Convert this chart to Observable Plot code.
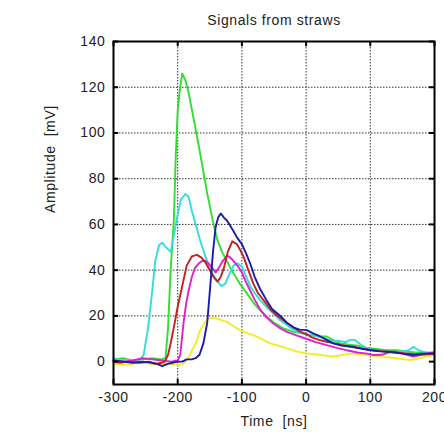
<!DOCTYPE html>
<html>
<head>
<meta charset="utf-8">
<script src="https://cdn.jsdelivr.net/npm/d3@7"></script>
<script src="https://cdn.jsdelivr.net/npm/@observablehq/plot@0.6"></script>
<style>
  html, body { margin: 0; padding: 0; background: #fff; }
</style>
</head>
<body>
<div id="chart"></div>
<script>
const title = "Signals from straws";
const xLabel = "Time\u00a0\u00a0[ns]";
const yLabel = "Amplitude\u00a0\u00a0[mV]";
const xTicks = [-300, -200, -100, 0, 100, 200];
const yTicks = [0, 20, 40, 60, 80, 100, 120, 140];

// [time ns, amplitude mV]
const yellow = [[-300,-1],[-285,-1.5],[-270,-1],[-255,-0.5],[-240,-1],[-225,-1.5],[-210,-1],[-200,-1.5],[-191,-1],[-185,1],[-180,3.6],[-172,8],[-165,13.8],[-158,17],[-152,18.8],[-144,19.3],[-135,18.5],[-123,17.4],[-113,15.5],[-103,13.8],[-92,12.5],[-82,11.6],[-70,10],[-56,8],[-43,7],[-30,5.8],[-15,4.5],[1,3.6],[20,3],[42,2.2],[58,3],[74,3.6],[90,3],[105,2.5],[120,2.2],[140,1.5],[162,0.7],[178,1.5],[198,2.9]];
const green = [[-300,1],[-285,1.5],[-270,0.5],[-255,1],[-240,1.5],[-225,1],[-219,1.5],[-215,15],[-211,40],[-206,62],[-203,90],[-200,110],[-197,118],[-193,126],[-188,123],[-184,119],[-175,106],[-165,91],[-155,75],[-145,61],[-138,53],[-131,48],[-118,41],[-103,34],[-90,29],[-80,25],[-70,22],[-61,19.5],[-50,17],[-35,14.5],[-20,13],[-9,12.5],[0,12],[10,11.5],[20,11],[32,11],[42,9.5],[53,8],[65,7.5],[80,7],[94,6],[110,5.5],[125,5],[140,5],[155,4.5],[170,4],[185,4],[198,3.5]];
const cyan = [[-300,1.5],[-290,0.5],[-280,1],[-270,0.5],[-258,1],[-253,3],[-246,15],[-240,30],[-235,44],[-229,51],[-224,52],[-218,50],[-211,48],[-206,55],[-201,63],[-195,71],[-188,73.3],[-183,72],[-178,66],[-172,60],[-165,53],[-157,46],[-149,40],[-140,36],[-132,33],[-126,34],[-120,38],[-113,42],[-107,43],[-100,41.5],[-93,37],[-87,33],[-80,30],[-72,27],[-62,24],[-51,21],[-40,18],[-30,16],[-20,14],[-9,12.5],[0,12],[10,11.5],[20,11],[30,10],[42,9],[52,9],[62,8.5],[69,9.5],[76,9.5],[85,7.5],[94,6],[105,5],[120,4.5],[135,4],[150,4.5],[160,5],[167,6.5],[175,5],[185,4],[198,4]];
const magenta = [[-300,0.5],[-285,0],[-270,0.5],[-255,1.5],[-240,1],[-225,0.5],[-210,0],[-200,0.5],[-196,3],[-191,16.7],[-187,25],[-183,31],[-178,37],[-173,41],[-167,43],[-162,44],[-157,44],[-152,43],[-146,41],[-141,39],[-136,41],[-131,43.5],[-123,46.4],[-118,45.5],[-113,44],[-107,42],[-100,39],[-94,35],[-87,31],[-80,27],[-72,23],[-62,19.5],[-51,16.7],[-40,14.5],[-30,13],[-15,11.5],[0,10],[15,8.5],[32,7.2],[48,6],[63,5],[80,4],[95,3.5],[105,2.9],[118,3],[128,4],[136,4.3],[150,3.5],[167,2.2],[180,3],[198,4]];
const red = [[-300,0],[-290,-0.5],[-275,0],[-260,-0.5],[-245,0],[-235,-1],[-225,-0.5],[-220,0],[-215,3],[-211,8],[-206,15],[-200,24],[-193,33],[-186,42],[-178,46],[-170,46.7],[-163,45.5],[-157,43.5],[-150,40],[-144,37],[-138,35],[-133,37],[-128,41],[-122,48],[-115,52.6],[-108,51.4],[-102,48.5],[-97,45.6],[-90,40],[-82,34],[-75,30],[-66,26.8],[-56,23],[-46,20.3],[-35,18],[-25,16],[-12,13.5],[0,12],[10,10.5],[20,9.5],[32,8.7],[45,8],[60,7],[74,6.5],[90,5.5],[105,5],[120,4.5],[140,4],[160,3.5],[175,3],[198,3.3]];
const blue = [[-300,0.5],[-285,0],[-270,-0.5],[-255,0],[-240,-0.5],[-232,-1],[-224,-2],[-216,-1],[-208,-0.5],[-200,0],[-193,0],[-186,1],[-178,1],[-172,1.5],[-166,3],[-160,8],[-154,17],[-149,34],[-145,48],[-141,58.7],[-137,63],[-133,64.8],[-128,63],[-123,61.6],[-113,57],[-107,54],[-100,51.4],[-93,47],[-87,42.8],[-80,37],[-72,32],[-62,27],[-53,23],[-40,20],[-30,17],[-20,15],[-10,14],[1,13.8],[10,12.5],[22,11],[32,9.5],[42,8],[55,7],[70,6.5],[84,5.8],[100,5],[115,4.5],[130,4.3],[150,3.5],[167,2.9],[180,3.5],[198,3.6]];

const seriesList = [
  {data: yellow, color: "#f0ee22"},
  {data: green, color: "#33dd33"},
  {data: cyan, color: "#33dddd"},
  {data: magenta, color: "#dd22cc"},
  {data: red, color: "#c42020"},
  {data: blue, color: "#1c1caa"}
];

const xMin = -300, xMax = 200, yMin = -10, yMax = 140;

const chart = Plot.plot({
  width: 444,
  height: 432,
  marginLeft: 113,
  marginRight: 10,
  marginTop: 41,
  marginBottom: 48,
  style: {fontFamily: "'Liberation Sans', Arial, sans-serif", fontSize: "14px", letterSpacing: "0.6px", background: "#fff", color: "#222"},
  x: {domain: [xMin, xMax]},
  y: {domain: [yMin, yMax]},
  marks: [
    Plot.ruleX(xTicks.slice(1, -1), {x: d => d, stroke: "#333", strokeWidth: 1, strokeDasharray: "1.5,1.5"}),
    Plot.ruleY(yTicks.slice(1, -1), {y: d => d, stroke: "#333", strokeWidth: 1, strokeDasharray: "1.5,1.5"}),
    ...seriesList.map(s => Plot.line(s.data, {x: d => d[0], y: d => d[1], stroke: s.color, strokeWidth: 1.9})),
    // inward ticks
    Plot.ruleX(xTicks, {x: d => d, y1: yMin, y2: yMin + 2.3, stroke: "#000", strokeWidth: 2}),
    Plot.ruleX(xTicks, {x: d => d, y1: yMax - 2.3, y2: yMax, stroke: "#000", strokeWidth: 2}),
    Plot.ruleY(yTicks, {y: d => d, x1: xMin, x2: xMin + 8, stroke: "#000", strokeWidth: 2}),
    Plot.ruleY(yTicks, {y: d => d, x1: xMax - 8, x2: xMax, stroke: "#000", strokeWidth: 2}),
    Plot.frame({stroke: "#000", strokeWidth: 2}),
    Plot.axisX(xTicks, {anchor: "bottom", tickSize: 0, tickPadding: 8, label: null, tickFormat: d => d}),
    Plot.axisY(yTicks, {anchor: "left", tickSize: 0, tickPadding: 8, label: null, tickFormat: d => d}),
    Plot.text([title], {frameAnchor: "top", dy: -26, fontSize: 14}),
    Plot.text([xLabel], {frameAnchor: "bottom", dy: 41, fontSize: 14}),
    Plot.text([yLabel], {frameAnchor: "left", dx: -63, rotate: -90, fontSize: 14})
  ]
});
document.getElementById("chart").appendChild(chart);
</script>
</body>
</html>
